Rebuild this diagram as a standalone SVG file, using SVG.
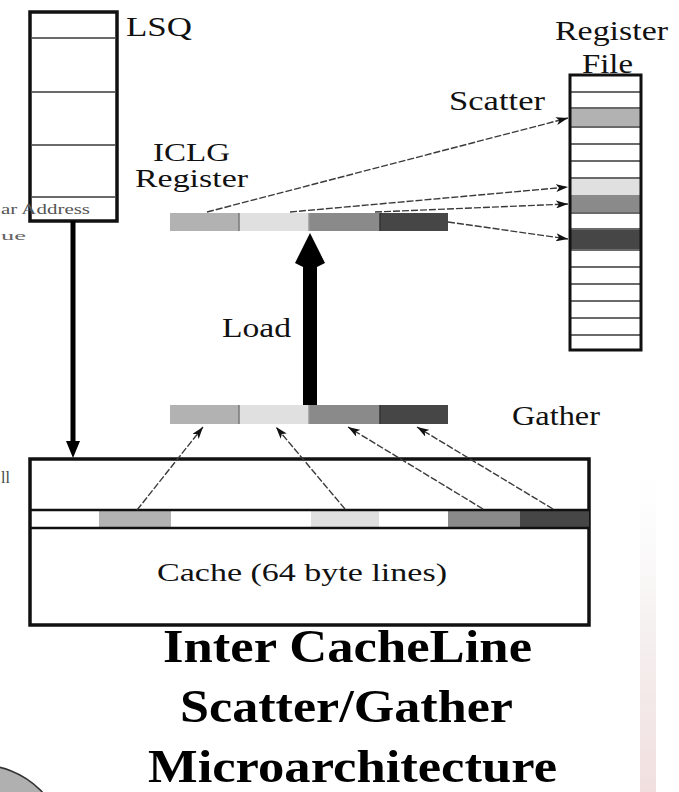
<svg xmlns="http://www.w3.org/2000/svg" width="679" height="792" viewBox="0 0 679 792">
<defs>
<style>
text{font-family:"Liberation Serif","Times New Roman",serif;fill:#111}
.lbl{font-size:28px}
.title{font-size:46px;font-weight:bold;fill:#000}
.box{fill:#fff;stroke:#111;stroke-width:3.5}
.row{stroke:#6a6a6a;stroke-width:1.8}
.thin{stroke:#3a3a3a;stroke-width:1.4;fill:none;stroke-dasharray:7 2}
.c1{fill:#b2b2b2}.c2{fill:#e0e0e0}.c3{fill:#8a8a8a}.c4{fill:#464646}
</style>
<marker id="ah" markerWidth="12" markerHeight="8" refX="12" refY="4" orient="auto" markerUnits="userSpaceOnUse">
<path d="M0,0 L12,4 L0,8 L3,4 z" fill="#111"/>
</marker>
<linearGradient id="edge" x1="0" y1="0" x2="0" y2="1">
<stop offset="0" stop-color="#f4f4f4" stop-opacity="0"/>
<stop offset="0.5" stop-color="#efe6e6"/>
<stop offset="1" stop-color="#e8caca"/>
</linearGradient>
</defs>
<rect width="679" height="792" fill="#fff"/>
<rect x="640" y="470" width="16" height="322" fill="url(#edge)" opacity="0.6"/>
<line x1="648" y1="480" x2="648" y2="792" stroke="url(#edge)" stroke-width="2"/>

<g id="lsq">
<rect class="box" x="30" y="12" width="87" height="209"/>
<line class="row" x1="32" y1="38" x2="115" y2="38"/>
<line class="row" x1="32" y1="92" x2="115" y2="92"/>
<line class="row" x1="32" y1="145" x2="115" y2="145"/>
<line class="row" x1="32" y1="197" x2="115" y2="197"/>
<text class="lbl" x="126" y="36" textLength="66" lengthAdjust="spacingAndGlyphs">LSQ</text>
<text x="1" y="214" font-size="14" textLength="89" lengthAdjust="spacingAndGlyphs" style="fill:#555">ar Address</text>
<text x="1" y="240" font-size="13" style="fill:#666" textLength="25" lengthAdjust="spacingAndGlyphs">ue</text>
</g>

<g id="iclg-register">
<text x="153" y="161" font-size="25" textLength="77" lengthAdjust="spacingAndGlyphs">ICLG</text>
<text x="135" y="187" font-size="25" textLength="113" lengthAdjust="spacingAndGlyphs">Register</text>
<rect class="c1" x="170" y="213" width="69" height="18"/>
<rect class="c2" x="239" y="213" width="70" height="18"/>
<rect class="c3" x="309" y="213" width="71" height="18"/>
<rect class="c4" x="380" y="213" width="68" height="18"/>
<line x1="239" y1="213" x2="239" y2="231" stroke="#777" stroke-width="1.5"/>
<line x1="309" y1="213" x2="309" y2="231" stroke="#999" stroke-width="1.5"/>
<line x1="380" y1="213" x2="380" y2="231" stroke="#333" stroke-width="1.5"/>
</g>

<g id="register-file">
<text class="lbl" x="555" y="40" textLength="113" lengthAdjust="spacingAndGlyphs">Register</text>
<text class="lbl" x="582" y="73" textLength="51" lengthAdjust="spacingAndGlyphs">File</text>
<rect class="c1" x="571" y="108" width="69" height="19"/>
<rect class="c2" x="571" y="178" width="69" height="17"/>
<rect class="c3" x="571" y="195" width="69" height="18"/>
<rect class="c4" x="571" y="229" width="69" height="21"/>
<line class="row" x1="571" y1="92" x2="640" y2="92"/>
<line class="row" x1="571" y1="108" x2="640" y2="108" stroke="#444"/>
<line class="row" x1="571" y1="127" x2="640" y2="127" stroke="#444"/>
<line class="row" x1="571" y1="144" x2="640" y2="144"/>
<line class="row" x1="571" y1="161" x2="640" y2="161"/>
<line class="row" x1="571" y1="178" x2="640" y2="178"/>
<line class="row" x1="571" y1="213" x2="640" y2="213"/>
<line class="row" x1="571" y1="229" x2="640" y2="229"/>
<line class="row" x1="571" y1="250" x2="640" y2="250"/>
<line class="row" x1="571" y1="267" x2="640" y2="267"/>
<line class="row" x1="571" y1="284" x2="640" y2="284"/>
<line class="row" x1="571" y1="301" x2="640" y2="301"/>
<line class="row" x1="571" y1="318" x2="640" y2="318"/>
<line class="row" x1="571" y1="335" x2="640" y2="335"/>
<rect x="570" y="75" width="71" height="275" fill="none" stroke="#111" stroke-width="3"/>
<text class="lbl" x="449" y="110" textLength="96" lengthAdjust="spacingAndGlyphs">Scatter</text>
</g>

<g id="gather-register">
<rect class="c1" x="170" y="405" width="69" height="19"/>
<rect class="c2" x="239" y="405" width="70" height="19"/>
<rect class="c3" x="309" y="405" width="71" height="19"/>
<rect class="c4" x="380" y="405" width="68" height="19"/>
<line x1="239" y1="405" x2="239" y2="424" stroke="#777" stroke-width="1.5"/>
<line x1="309" y1="405" x2="309" y2="424" stroke="#999" stroke-width="1.5"/>
<line x1="380" y1="405" x2="380" y2="424" stroke="#333" stroke-width="1.5"/>
<text class="lbl" x="512" y="425" textLength="88" lengthAdjust="spacingAndGlyphs">Gather</text>
</g>

<g id="cache">
<rect class="box" x="30" y="459" width="559" height="166"/>
<rect class="c1" x="99" y="510" width="72" height="18"/>
<rect class="c2" x="311" y="510" width="68" height="18"/>
<rect class="c3" x="448" y="510" width="72" height="18"/>
<rect class="c4" x="520" y="510" width="69" height="18"/>
<line x1="30" y1="510" x2="589" y2="510" stroke="#111" stroke-width="2.5"/>
<line x1="30" y1="528" x2="589" y2="528" stroke="#111" stroke-width="2.5"/>
<text x="157" y="581" font-size="26" textLength="290" lengthAdjust="spacingAndGlyphs">Cache (64 byte lines)</text>
<text x="1" y="483" font-size="16" style="fill:#444">ll</text>
</g>

<g id="connectors">
<line class="thin" x1="207" y1="212" x2="568" y2="118" marker-end="url(#ah)"/>
<line class="thin" x1="290" y1="212" x2="568" y2="187" marker-end="url(#ah)"/>
<line class="thin" x1="375" y1="212" x2="568" y2="204" marker-end="url(#ah)"/>
<line class="thin" x1="448" y1="222" x2="568" y2="239" marker-end="url(#ah)"/>
<line class="thin" x1="137" y1="510" x2="203" y2="427" marker-end="url(#ah)"/>
<line class="thin" x1="345" y1="509" x2="276" y2="427" marker-end="url(#ah)"/>
<line class="thin" x1="483" y1="509" x2="348" y2="427" marker-end="url(#ah)"/>
<line class="thin" x1="553" y1="509" x2="417" y2="427" marker-end="url(#ah)"/>
<polygon points="310,233 325,263 317,267 317,405 303,405 303,267 295,263" fill="#000"/>
<polygon points="70.5,221 75.5,221 75.5,441 80,441 73,458 66,441 70.5,441" fill="#000"/>
<text class="lbl" x="222" y="337" textLength="69" lengthAdjust="spacingAndGlyphs">Load</text>
</g>

<g id="title">
<text class="title" x="163" y="662" textLength="369" lengthAdjust="spacingAndGlyphs">Inter CacheLine</text>
<text class="title" x="180" y="722" textLength="333" lengthAdjust="spacingAndGlyphs">Scatter/Gather</text>
<text class="title" x="148" y="782" textLength="409" lengthAdjust="spacingAndGlyphs">Microarchitecture</text>
</g>

<g id="corner">
<circle cx="-20" cy="850" r="85" fill="#b0b0b0" stroke="#333" stroke-width="1.5"/>
</g>
</svg>
